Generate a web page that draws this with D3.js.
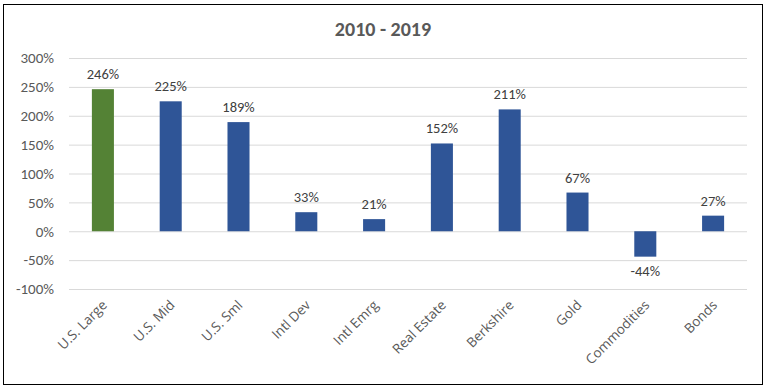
<!DOCTYPE html>
<html><head><meta charset="utf-8">
<script src="https://cdn.jsdelivr.net/npm/d3@7"></script>
<style>body{margin:0;background:#fff;} svg{display:block;}</style>
</head><body>
<svg id="c" width="767" height="389"></svg>
<script>
const categories = ["U.S. Large","U.S. Mid","U.S. Sml","Intl Dev","Intl Emrg","Real Estate","Berkshire","Gold","Commodities","Bonds"];
const values = [246,225,189,33,21,152,211,67,-44,27];
const yTicks = [-100,-50,0,50,100,150,200,250,300];
const title = "2010 - 2019";
const highlight = "U.S. Large";

const svg = d3.select("#c");
svg.append("rect").attr("x",3.5).attr("y",4.5).attr("width",759).attr("height",380)
  .attr("fill","#fff").attr("stroke","#000").attr("stroke-width",1);

const m = {left:69, right:747, top:58, bottom:289};
const x = d3.scaleBand().domain(categories).range([m.left,m.right]).paddingInner(0.675).paddingOuter(0.3375);
const y = d3.scaleLinear().domain([-100,300]).range([m.bottom,m.top]);
const font = "Carlito, Calibri, Lato, 'Liberation Sans', sans-serif";

svg.append("text").attr("x",383).attr("y",36).attr("text-anchor","middle")
  .attr("font-family",font).attr("font-weight","bold").attr("font-size",20).attr("fill","#595959").text(title);

const yAxis = d3.axisLeft(y).tickValues(yTicks).tickSize(-(m.right-m.left)).tickFormat(d=>d+"%");
const ga = svg.append("g").attr("transform",`translate(${m.left},0)`).call(yAxis);
ga.select(".domain").remove();
ga.selectAll(".tick line").attr("stroke","#d9d9d9").attr("stroke-width",1);
ga.selectAll(".tick text").attr("x",-15).attr("font-family",font).attr("font-size",15).attr("fill","#595959");

svg.append("g").selectAll("rect").data(values).join("rect")
  .attr("x",(d,i)=>x(categories[i]))
  .attr("width",x.bandwidth())
  .attr("y",d=>y(Math.max(0,d)))
  .attr("height",d=>Math.abs(y(d)-y(0)))
  .attr("fill",(d,i)=>categories[i]===highlight?"#548235":"#2F5597");

svg.append("g").selectAll("text").data(values).join("text")
  .attr("x",(d,i)=>x(categories[i])+x.bandwidth()/2)
  .attr("y",d=>d>=0?y(d)-10:y(d)+19)
  .attr("text-anchor","middle").attr("font-family",font).attr("font-size",14.5).attr("fill","#404040")
  .text(d=>d+"%");

const xAxis = d3.axisBottom(x).tickSize(0);
const gx = svg.append("g").attr("transform",`translate(0,${m.bottom})`).call(xAxis);
gx.select(".domain").remove();
gx.selectAll(".tick text")
  .attr("text-anchor","end")
  .attr("font-family","'Open Sans', sans-serif").attr("font-size",13.5).attr("fill","#595959")
  .attr("transform","translate(5,17) rotate(-45)").attr("dy",0).attr("y",0).attr("x",0);
</script>
</body></html>
